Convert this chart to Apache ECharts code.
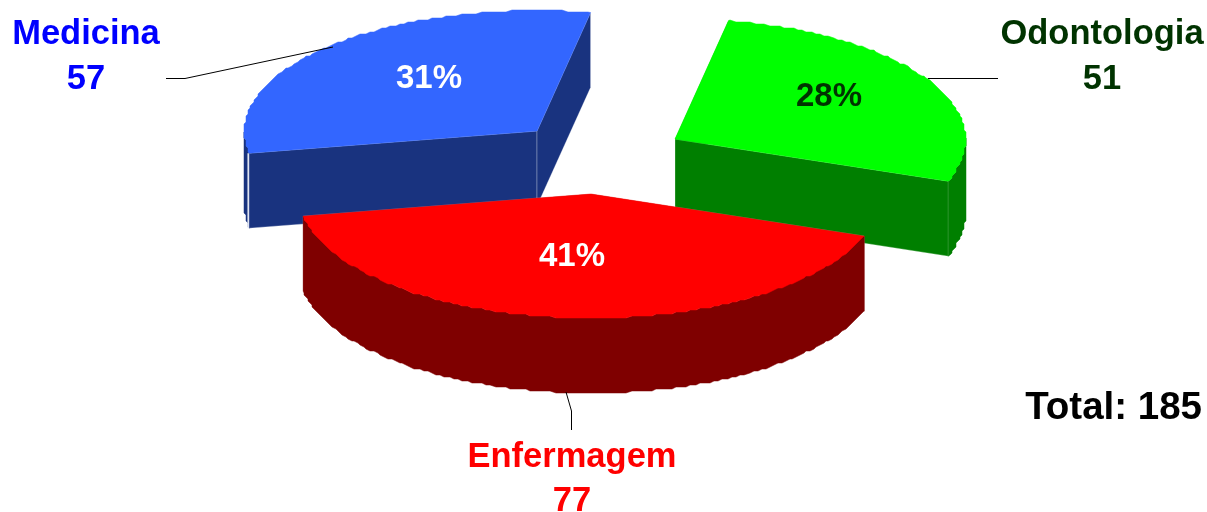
<!DOCTYPE html>
<html>
<head>
<meta charset="utf-8">
<style>html,body{margin:0;padding:0;background:#fff}#c{width:1207px;height:512px}</style>
<script src="https://cdn.jsdelivr.net/npm/echarts@6/dist/echarts.min.js"></script>
</head>
<body>
<div id="c"></div>
<script>
// Data
var categories = ['Medicina', 'Odontologia', 'Enfermagem'];
var values = [57, 51, 77];
var percentLabels = ['31%', '28%', '41%'];
var totalLabel = 'Total: 185';

// Appearance
var topColors = ['#3366ff', '#00ff00', '#ff0000'];
var wallColors = ['#19337f', '#007f00', '#7f0000'];
var nameColors = ['#0000ff', '#003300', '#ff0000'];
var pctColors = ['#ffffff', '#003300', '#ffffff'];

// Layout: exploded-slice apex, label anchors, leader lines
var apex = [[537, 131], [675, 139], [591, 194]];
var pctPos = [[429, 79], [829, 97], [572, 257]];
var namePos = [[86, 34], [1102, 34], [572, 457]];
var valuePos = [[86, 79], [1102, 79], [572, 501]];
var leaders = [
  [[166, 78.5], [185, 78.5], [333, 47]],
  [[928, 78.5], [998, 78.5]],
  [[566, 392], [571.5, 411], [571.5, 430]]
];
var RX_LEFT = 292.5, RX_RIGHT = 290.5, RY_UP = 120.5, RY_DOWN = 124, DEPTH = 75, START_DEG = 169.7, STEP_DEG = 1, GRID = 2;

var total = values.reduce(function (a, b) { return a + b; }, 0);

function rimPoint(c, deg, snap) {
  var t = deg * Math.PI / 180, s = Math.sin(t), co = Math.cos(t);
  var x = c[0] + (co < 0 ? RX_LEFT : RX_RIGHT) * co;
  var y = c[1] + (s < 0 ? RY_UP : RY_DOWN) * s;
  if (snap) { x = Math.round(x / GRID) * GRID; y = Math.round(y / GRID) * GRID; }
  return [x, y];
}
function arcAngles(a0, a1) {
  var list = [a0];
  for (var d = Math.ceil(a0 / STEP_DEG) * STEP_DEG; d < a1; d += STEP_DEG) { if (d > a0) list.push(d); }
  list.push(a1);
  return list;
}
function down(p) { return [p[0], p[1] + DEPTH]; }

function renderSlice(params, api) {
  var i = params.dataIndex;
  var a0 = START_DEG;
  for (var k = 0; k < i; k++) a0 += values[k] / total * 360;
  var a1 = a0 + api.value(0) / total * 360;
  var c = apex[i];
  var angles = arcAngles(a0, a1);
  var rim = angles.map(function (d, n) { return rimPoint(c, d, n > 0 && n < angles.length - 1); });
  var first = rim[0], last = rim[rim.length - 1];
  var edge = 'rgba(255,255,255,0.35)';
  var children = [];

  function poly(points, fill, stroke) {
    children.push({
      type: 'polygon', shape: { points: points },
      style: { fill: fill, stroke: stroke || fill, lineWidth: stroke ? 0.8 : 0.5 }
    });
  }
  // cut walls
  poly([c, first, down(first), down(c)], wallColors[i], edge);
  poly([c, last, down(last), down(c)], wallColors[i], edge);
  // outer wall: only the part of the rim facing the viewer (lower half of the ellipse)
  var lo = [], n0;
  for (n0 = 0; n0 < angles.length; n0++) {
    var nd = ((angles[n0] % 360) + 360) % 360;
    if (nd <= 180) lo.push(rim[n0]);
  }
  if (lo.length > 1) {
    poly(lo.concat(lo.slice().reverse().map(down)), wallColors[i]);
  }
  // white seam where the outer wall of the first slice meets its cut wall
  if (i === 0) {
    children.push({ type: 'line', shape: { x1: first[0] - 1, y1: first[1], x2: first[0] - 1, y2: first[1] + DEPTH },
      style: { stroke: '#e8ecf6', lineWidth: 1.5 } });
  }
  // top face
  poly([c].concat(rim), topColors[i]);
  // leader
  children.push({ type: 'polyline', shape: { points: leaders[i] },
    style: { stroke: '#000', lineWidth: 1, fill: null } });
  // texts
  function text(str, p, fill, size) {
    children.push({ type: 'text', z2: 10,
      style: { text: str, x: p[0], y: p[1], fill: fill, align: 'center', verticalAlign: 'middle',
        font: 'bold ' + size + 'px "Liberation Sans", Arial, sans-serif' } });
  }
  text(percentLabels[i], pctPos[i], pctColors[i], 33);
  text(categories[i], namePos[i], nameColors[i], 34.5);
  text(String(api.value(0)), valuePos[i], nameColors[i], 34.5);
  return { type: 'group', children: children };
}

var chart = echarts.init(document.getElementById('c'), null, { renderer: 'canvas' });
chart.setOption({
  backgroundColor: '#ffffff',
  animation: false,
  title: {
    text: totalLabel, right: 5, top: 389, padding: 0,
    textStyle: { color: '#000', fontSize: 38.5, fontWeight: 'bold', fontFamily: '"Liberation Sans", Arial, sans-serif' }
  },
  series: [{
    type: 'custom',
    coordinateSystem: 'none',
    renderItem: renderSlice,
    data: values.map(function (v, i) { return { name: categories[i], value: [v] }; }),
    silent: true
  }]
});
</script>
</body>
</html>
